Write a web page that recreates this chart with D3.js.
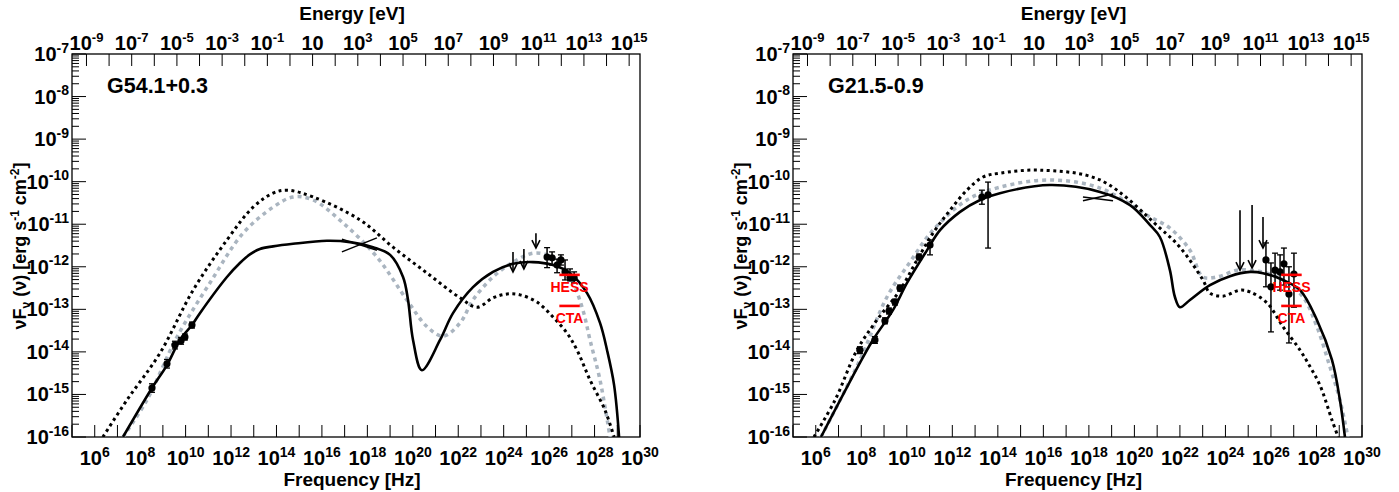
<!DOCTYPE html>
<html><head><meta charset="utf-8">
<script src="https://cdn.jsdelivr.net/npm/d3@7"></script>
<style>
body{margin:0;background:#fff}
svg{display:block}
text{font-family:"Liberation Sans",Arial,Helvetica,sans-serif;font-weight:bold;fill:#000}
</style>
</head><body>
<svg id="c" width="1399" height="492"></svg>
<script>
// ---------- DATA (log10 frequency [Hz], log10 nuFnu [erg/s/cm2]) ----------
const panelTitles = ["G54.1+0.3", "G21.5-0.9"];
const bottomTickExps = [6,8,10,12,14,16,18,20,22,24,26,28,30];
const topTickExps = [-9,-7,-5,-3,-1,1,3,5,7,9,11,13,15];
const yTickExps = [-16,-15,-14,-13,-12,-11,-10,-9,-8,-7];

// G54.1+0.3 model curves
const g54Solid = [[7.245,-16],[8.52,-14.85],[9.18,-14.31],[9.75,-13.72],[10.28,-13.37],[10.63,-13.09],[11.82,-12.24],[12.39,-11.91],[12.83,-11.71],[13.27,-11.58],[13.85,-11.52],[14.73,-11.46],[16.22,-11.39],[17.24,-11.42],[18.25,-11.54],[19.0,-11.72],[19.57,-12.24],[19.79,-12.78],[20.01,-13.72],[20.40,-14.43],[21.20,-13.72],[21.77,-13.09],[22.65,-12.48],[23.53,-12.12],[24.41,-11.93],[25.29,-11.89],[26.17,-11.96],[26.92,-12.15],[27.67,-12.62],[28.24,-13.32],[28.55,-13.96],[28.86,-14.78],[29.08,-16]];
const g54Dotted = [[6.36,-16],[7.42,-15.13],[8.87,-14.03],[10.33,-12.55],[11.82,-11.37],[12.97,-10.60],[13.85,-10.27],[14.46,-10.20],[15.61,-10.36],[17.68,-10.90],[19.13,-11.54],[20.63,-12.15],[22.08,-12.73],[22.83,-12.95],[23.53,-12.73],[24.15,-12.64],[24.72,-12.66],[25.47,-12.83],[26.17,-13.18],[26.79,-13.56],[27.23,-13.96],[27.80,-14.66],[28.46,-15.37],[28.86,-16]];
const g54Gray = [[7.245,-16],[8.30,-15.13],[9.62,-13.65],[11.07,-12.38],[12.53,-11.21],[13.85,-10.60],[14.73,-10.36],[15.61,-10.43],[16.93,-10.97],[18.42,-11.77],[19.74,-12.78],[20.63,-13.41],[21.33,-13.63],[22.08,-13.32],[22.65,-12.78],[23.53,-12.24],[24.41,-11.89],[25.29,-11.68],[25.91,-11.72],[26.48,-11.91],[27.05,-12.38],[27.49,-13.02],[27.80,-13.72],[28.24,-14.66],[28.68,-16]];
// G54.1+0.3 data: [logNu, logF, logLow, logHigh]
const g54Points = [[8.52,-14.85,-14.95,-14.75],[9.18,-14.28,-14.38,-14.18],[9.53,-13.84,-13.93,-13.75],[9.80,-13.74,-13.82,-13.66],[9.97,-13.65,-13.72,-13.58],[10.28,-13.37,-13.44,-13.30],
  [25.91,-11.77,-12.02,-11.55],[26.13,-11.79,-11.96,-11.65],[26.35,-11.96,-12.14,-11.82],[26.52,-11.84,-11.96,-11.72],[26.70,-12.12,-12.31,-11.84],[26.92,-12.26,-12.33,-12.05],[27.10,-12.26,-12.38,-12.12]];
// upper limits: [logNu, logTop, logTip]
const g54Limits = [[24.41,-11.65,-12.12],[24.89,-11.58,-12.05],[25.42,-11.21,-11.56]];
// X-ray bowtie: two segments [logNu1, logF1, logNu2, logF2]
const g54Bowtie = [[16.88,-11.65,18.42,-11.32],[16.88,-11.35,18.42,-11.61]];

// G21.5-0.9 model curves
const g21Solid = [[6.23,-16],[7.94,-14.26],[8.51,-13.72],[9.39,-13.02],[10.01,-12.38],[10.89,-11.61],[11.46,-11.14],[12.34,-10.71],[13.22,-10.43],[14.09,-10.27],[16.29,-10.08],[18.49,-10.24],[19.81,-10.55],[20.69,-11.02],[21.12,-11.30],[21.56,-12.08],[21.78,-12.71],[22.00,-12.95],[22.44,-12.78],[23.32,-12.43],[24.20,-12.22],[25.08,-12.12],[25.65,-12.15],[26.53,-12.31],[27.28,-12.55],[28.02,-13.25],[28.68,-14.19],[29.03,-15.13],[29.25,-16]];
const g21Dotted = [[5.92,-16],[6.85,-15.13],[7.81,-13.96],[8.69,-13.25],[9.70,-12.55],[10.45,-11.84],[11.15,-11.21],[11.90,-10.67],[12.64,-10.20],[13.35,-9.89],[14.09,-9.80],[15.85,-9.73],[18.49,-9.96],[21.12,-11.09],[22.00,-11.54],[23.01,-12.31],[23.32,-12.62],[23.89,-12.69],[24.64,-12.55],[25.08,-12.59],[25.83,-12.85],[26.53,-13.41],[27.28,-13.96],[27.72,-14.35],[28.15,-14.78],[28.68,-15.60],[28.95,-16]];
const g21Gray = [[6.23,-16],[7.94,-14.19],[9.13,-12.71],[10.14,-11.89],[11.15,-11.14],[12.64,-10.43],[14.09,-10.13],[16.29,-9.96],[18.49,-10.15],[20.69,-10.83],[21.56,-11.09],[22.44,-11.61],[23.01,-12.24],[23.63,-12.24],[24.51,-12.08],[25.08,-12.08],[25.83,-12.15],[26.53,-12.31],[27.41,-12.71],[28.02,-13.41],[28.59,-14.35],[29.03,-15.13],[29.38,-16]];
const g21Points = [[7.94,-13.96,-14.04,-13.88],[8.60,-13.72,-13.80,-13.64],[9.04,-13.27,-13.34,-13.20],[9.22,-13.04,-13.11,-12.97],[9.48,-12.83,-12.90,-12.76],[9.70,-12.50,-12.57,-12.43],[10.54,-11.77,-11.84,-11.70],[11.02,-11.49,-11.72,-11.37],
  [13.30,-10.36,-10.53,-10.20],[13.57,-10.31,-11.56,-10.01],
  [25.78,-11.84,-12.47,-11.44],[26.00,-12.47,-13.53,-11.91],[26.18,-12.08,-12.47,-11.68],[26.40,-12.12,-12.55,-11.72],[26.57,-11.93,-12.43,-11.56],[26.79,-12.64,-13.79,-12.00],[27.01,-12.17,-12.95,-11.68]];
const g21Limits = [[24.64,-10.67,-12.08],[25.17,-10.55,-12.03],[25.65,-10.83,-11.56]];
const g21Bowtie = [[17.74,-10.45,19.06,-10.29],[17.74,-10.36,19.06,-10.45]];

// sensitivity bars: [logNu1, logNu2, logF]
const hessBar = [26.45, 27.35, -12.19];
const ctaBar  = [26.45, 27.35, -12.92];

// ---------- DRAWING ----------
const svg = d3.select("#c");
const P = v => Math.pow(10, v);

const panels = [
  {x0:72, x1:640, title:panelTitles[0], solid:g54Solid, dotted:g54Dotted, gray:g54Gray, pts:g54Points, lim:g54Limits, bow:g54Bowtie},
  {x0:793, x1:1362, title:panelTitles[1], solid:g21Solid, dotted:g21Dotted, gray:g21Gray, pts:g21Points, lim:g21Limits, bow:g21Bowtie}
];
const y0 = 54, y1 = 437;

function supLabel(g, x, y, exp, anchor, size, supSize) {
  const t = g.append("text").attr("x", x).attr("y", y).attr("text-anchor", anchor).style("font-size", size + "px");
  if (exp === 1) { t.text("10"); return t; }
  if (exp === 0) { t.text("1"); return t; }
  t.append("tspan").text("10");
  t.append("tspan").attr("dy", -size*0.42).style("font-size", supSize + "px").text(String(exp));
  return t;
}

panels.forEach(p => {
  const g = svg.append("g");
  const x = d3.scaleLog().domain([1e5, 1e30]).range([p.x0, p.x1]);
  const y = d3.scaleLog().domain([1e-16, 1e-7]).range([y1, y0]);
  const e = d3.scaleLog().domain([P(-9.64), P(15.48)]).range([p.x0, p.x1]);

  const cid = "clip" + p.x0;
  svg.append("clipPath").attr("id", cid).append("rect").attr("x", p.x0).attr("y", y0).attr("width", p.x1-p.x0).attr("height", y1-y0);

  // Y ticks (left, inside)
  for (let k = -16; k <= -7; k++) {
    g.append("line").attr("x1", p.x0).attr("x2", p.x0+14).attr("y1", y(P(k))).attr("y2", y(P(k))).attr("stroke","#000").attr("stroke-width",1);
    if (k < -7) for (let m = 2; m <= 9; m++) {
      const yy = y(m*P(k));
      g.append("line").attr("x1", p.x0).attr("x2", p.x0+7).attr("y1", yy).attr("y2", yy).attr("stroke","#000").attr("stroke-width",1);
    }
  }
  yTickExps.forEach(k => supLabel(g, p.x0-3, y(P(k))+7, k, "end", 20, 14));

  // bottom ticks (inside)
  for (let k = 5; k <= 30; k++) {
    const xx = x(P(k));
    g.append("line").attr("x1", xx).attr("x2", xx).attr("y1", y1).attr("y2", y1-12).attr("stroke","#000").attr("stroke-width",1);
  }
  bottomTickExps.forEach(k => supLabel(g, x(P(k)), y1+28, k, "middle", 20, 14));

  // top ticks (inside)
  for (let k = -9; k <= 15; k++) {
    const xx = e(P(k));
    g.append("line").attr("x1", xx).attr("x2", xx).attr("y1", y0).attr("y2", y0+12).attr("stroke","#000").attr("stroke-width",1);
  }
  topTickExps.forEach(k => supLabel(g, e(P(k)), y0-4, k, "middle", 20, 13));

  // frame
  g.append("rect").attr("x", p.x0).attr("y", y0).attr("width", p.x1-p.x0).attr("height", y1-y0)
    .attr("fill","none").attr("stroke","#000").attr("stroke-width",1.3);

  // axis titles
  const cx = (p.x0 + p.x1)/2;
  g.append("text").attr("x", cx-4).attr("y", 20).attr("text-anchor","middle").style("font-size","19px").text("Energy [eV]");
  g.append("text").attr("x", cx-4).attr("y", 486).attr("text-anchor","middle").style("font-size","19px").text("Frequency [Hz]");
  const yl = g.append("text").attr("transform", `translate(${p.x0-46},246) rotate(-90)`).attr("text-anchor","middle").style("font-size","18px");
  yl.append("tspan").text("\u03bdF");
  yl.append("tspan").attr("dy", 4).style("font-size","12px").text("\u03bd");
  yl.append("tspan").attr("dy", -4).text(" (\u03bd) [erg s");
  yl.append("tspan").attr("dy", -7).style("font-size","12px").text("-1");
  yl.append("tspan").attr("dy", 7).text(" cm");
  yl.append("tspan").attr("dy", -7).style("font-size","12px").text("-2");
  yl.append("tspan").attr("dy", 7).text("]");

  // title
  g.append("text").attr("x", p.x0+35).attr("y", 93).style("font-size","21.5px").text(p.title);

  const plot = g.append("g").attr("clip-path", `url(#${cid})`);
  const line = d3.line().x(d => x(P(d[0]))).y(d => y(P(d[1]))).curve(d3.curveCatmullRom.alpha(0.5));

  plot.append("path").datum(p.gray).attr("d", line).attr("fill","none").attr("stroke","#aab5c0").attr("stroke-width",3.5).attr("stroke-dasharray","4,4");
  plot.append("path").datum(p.dotted).attr("d", line).attr("fill","none").attr("stroke","#000").attr("stroke-width",3).attr("stroke-dasharray","3,3.5");
  plot.append("path").datum(p.solid).attr("d", line).attr("fill","none").attr("stroke","#000").attr("stroke-width",2.6);

  p.bow.forEach(b => plot.append("line").attr("x1", x(P(b[0]))).attr("y1", y(P(b[1]))).attr("x2", x(P(b[2]))).attr("y2", y(P(b[3]))).attr("stroke","#000").attr("stroke-width",1.5));

  p.pts.forEach(d => {
    const xx = x(P(d[0]));
    plot.append("line").attr("x1", xx).attr("x2", xx).attr("y1", y(P(d[2]))).attr("y2", y(P(d[3]))).attr("stroke","#000").attr("stroke-width",1.5);
    [d[2], d[3]].forEach(v => plot.append("line").attr("x1", xx-3).attr("x2", xx+3).attr("y1", y(P(v))).attr("y2", y(P(v))).attr("stroke","#000").attr("stroke-width",1.3));
    plot.append("circle").attr("cx", xx).attr("cy", y(P(d[1]))).attr("r", 3.6).attr("fill","#000");
  });

  p.lim.forEach(d => {
    const xx = x(P(d[0])), yt = y(P(d[1])), yb = y(P(d[2]));
    plot.append("line").attr("x1", xx).attr("x2", xx).attr("y1", yt).attr("y2", yb).attr("stroke","#000").attr("stroke-width",1.6);
    plot.append("path").attr("d", `M${xx-4},${yb-8}L${xx},${yb}L${xx+4},${yb-8}`).attr("fill","none").attr("stroke","#000").attr("stroke-width",1.6);
  });

  [[hessBar,"HESS"],[ctaBar,"CTA"]].forEach(([b, name]) => {
    const xa = x(P(b[0])), xb = x(P(b[1])), yy = y(P(b[2]));
    plot.append("line").attr("x1", xa).attr("x2", xb).attr("y1", yy).attr("y2", yy).attr("stroke","#ff0000").attr("stroke-width",2.6);
    plot.append("text").attr("x", (xa+xb)/2).attr("y", yy+17).attr("text-anchor","middle").style("font-size","14px").style("fill","#ff0000").text(name);
  });
});
</script>
</body></html>
